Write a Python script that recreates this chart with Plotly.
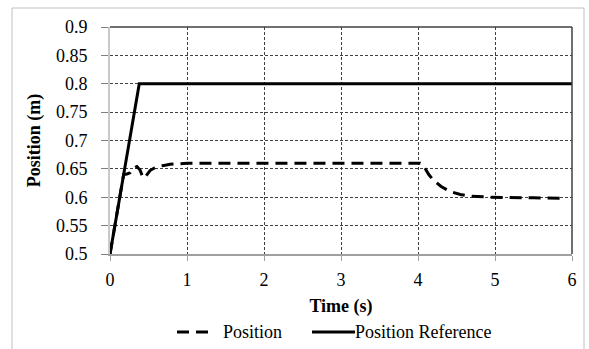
import plotly.graph_objects as go

# Data
ref_t = [0, 0.38, 6]
ref_y = [0.5, 0.8, 0.8]

pos_t = [0, 0.177, 0.22, 0.26, 0.30, 0.35, 0.39, 0.43, 0.47, 0.52, 0.57, 0.61, 0.70, 0.78, 0.9, 1.0, 2.0, 3.0, 4.03, 4.06, 4.09, 4.14, 4.2, 4.3, 4.42, 4.55, 4.68, 4.8, 4.94, 5.5, 5.9]
pos_y = [0.5, 0.64, 0.641, 0.643, 0.651, 0.654, 0.648, 0.634, 0.638, 0.647, 0.651, 0.654, 0.656, 0.658, 0.659, 0.66, 0.66, 0.66, 0.66, 0.658, 0.651, 0.640, 0.630, 0.619, 0.610, 0.605, 0.602, 0.601, 0.600, 0.599, 0.598]

x_ticks = [0, 1, 2, 3, 4, 5, 6]
y_ticks = [0.5, 0.55, 0.6, 0.65, 0.7, 0.75, 0.8, 0.85, 0.9]
y_labels = ["0.5", "0.55", "0.6", "0.65", "0.7", "0.75", "0.8", "0.85", "0.9"]
series_names = ["Position", "Position Reference"]

FONT = "Liberation Serif, Times New Roman, serif"
FS = 18

# plot area pixel geometry (for paper-coordinate legend / frame)
L, R, T, B = 110, 572, 27, 254
W, H = R - L, B - T


def px(x):
    return (x - L) / W


def py(y):
    return (B - y) / H


fig = go.Figure()
fig.add_trace(go.Scatter(
    x=pos_t, y=pos_y, mode="lines", name=series_names[0],
    line=dict(color="black", width=3, dash="12px,7px"),
))
fig.add_trace(go.Scatter(
    x=ref_t, y=ref_y, mode="lines", name=series_names[1],
    line=dict(color="black", width=3),
))

leg_y = 332
shapes = [
    # plot-area border (top and right)
    dict(type="line", xref="paper", yref="paper", x0=0, x1=1, y0=1, y1=1,
         line=dict(color="#404040", width=1.5)),
    dict(type="line", xref="paper", yref="paper", x0=1, x1=1, y0=0, y1=1,
         line=dict(color="#404040", width=1.5)),
    # outer chart border
    dict(type="rect", xref="paper", yref="paper", x0=px(12), x1=px(584), y0=py(352), y1=py(8),
         line=dict(color="#c0c0c0", width=1)),
    # legend samples
    dict(type="line", xref="paper", yref="paper", x0=px(177), x1=px(213), y0=py(leg_y), y1=py(leg_y),
         line=dict(color="black", width=3, dash="12px,7px")),
    dict(type="line", xref="paper", yref="paper", x0=px(312), x1=px(355), y0=py(leg_y), y1=py(leg_y),
         line=dict(color="black", width=3)),
]
annotations = [
    dict(text=series_names[0], xref="paper", yref="paper", x=px(221), y=py(leg_y),
         xanchor="left", yanchor="middle", showarrow=False, font=dict(family=FONT, size=FS)),
    dict(text=series_names[1], xref="paper", yref="paper", x=px(353), y=py(leg_y),
         xanchor="left", yanchor="middle", showarrow=False, font=dict(family=FONT, size=FS)),
]

fig.update_layout(
    width=589, height=349,
    margin=dict(l=L, r=589 - R, t=T, b=349 - B),
    paper_bgcolor="white", plot_bgcolor="white",
    font=dict(family=FONT, size=FS, color="black"),
    showlegend=False,
    xaxis=dict(
        range=[0, 6], tickvals=x_ticks, ticktext=[str(v) for v in x_ticks],
        showgrid=True, gridcolor="#404040", gridwidth=1, griddash="3px,2px",
        showline=True, linecolor="#a0a0a0", linewidth=1.5,
        ticks="outside", ticklen=5, tickcolor="#a0a0a0",
        zeroline=False, ticklabelstandoff=4,
        title=dict(text="<b>Time (s)</b>", standoff=10, font=dict(family=FONT, size=FS)),
        automargin=False,
    ),
    yaxis=dict(
        range=[0.5, 0.9], tickvals=y_ticks, ticktext=y_labels,
        showgrid=True, gridcolor="#404040", gridwidth=1, griddash="3px,2px",
        showline=True, linecolor="#c8c8c8", linewidth=2,
        ticks="outside", ticklen=7, tickcolor="#808080",
        zeroline=False, ticklabelstandoff=10,
        title=dict(text="<b>Position (m)</b>", standoff=11, font=dict(family=FONT, size=FS)),
        automargin=False,
    ),
    shapes=shapes,
    annotations=annotations,
)

fig.write_html("out.html")
